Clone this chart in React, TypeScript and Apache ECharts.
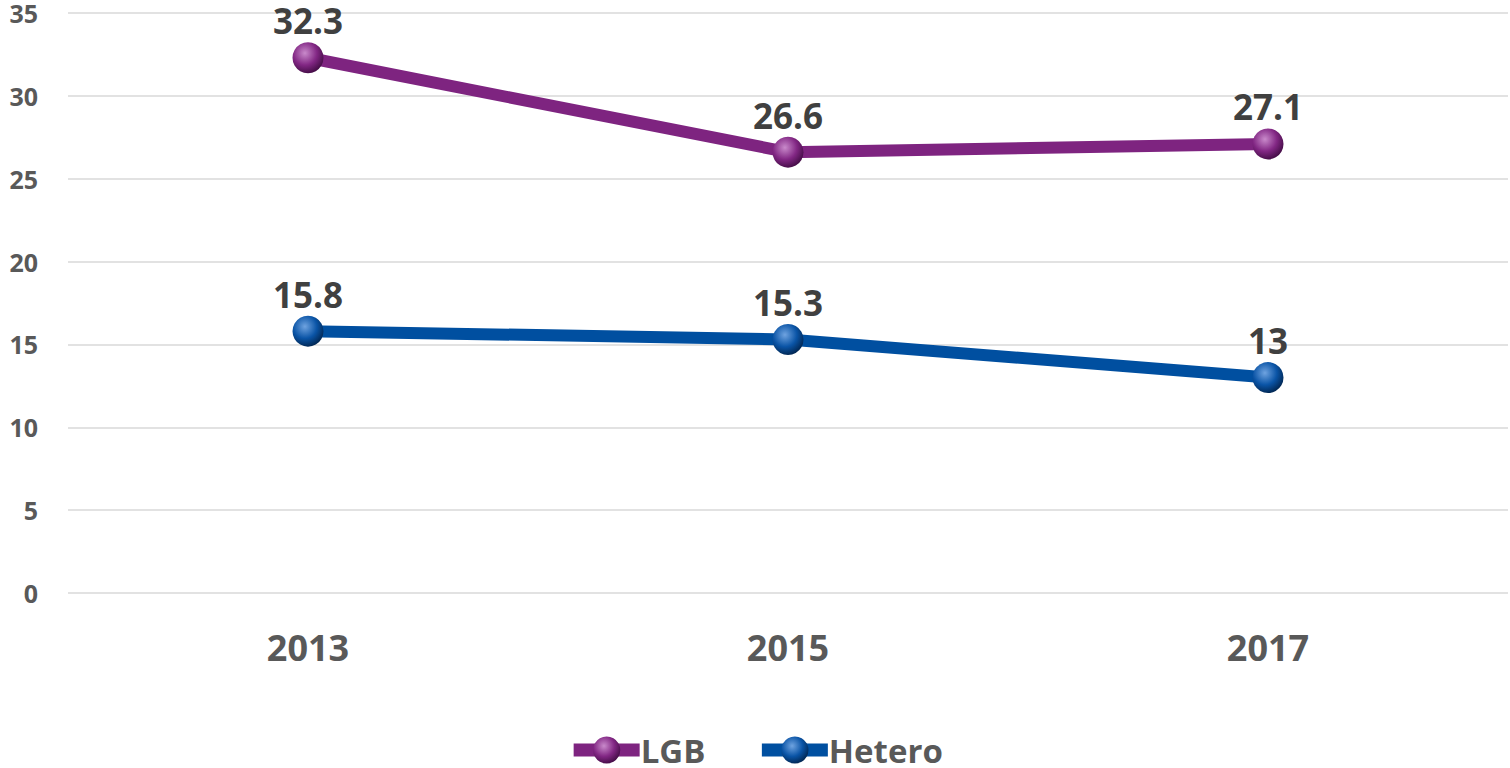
import React, { useEffect, useRef } from "react";
import * as echarts from "echarts";

const categories = ["2013", "2015", "2017"];
const lgbValues = [32.3, 26.6, 27.1];
const heteroValues = [15.8, 15.3, 13];
const yTicks = { min: 0, max: 35, interval: 5 };

const FONT = "'Open Sans', 'Noto Sans', sans-serif";

function sphere(light: string, mid: string, dark: string) {
  return new echarts.graphic.RadialGradient(0.4, 0.35, 0.7, [
    { offset: 0, color: light },
    { offset: 0.55, color: mid },
    { offset: 1, color: dark },
  ]);
}

export default function App() {
  const ref = useRef<HTMLDivElement>(null);
  useEffect(() => {
    if (!ref.current) return;
    const chart = echarts.init(ref.current, undefined, { renderer: "svg" });
    const labelStyle = {
      show: true,
      position: "top" as const,
      distance: 4,
      fontFamily: FONT,
      fontWeight: "bold" as const,
      fontSize: 35,
      color: "#404040",
    };
    chart.setOption({
      animation: false,
      backgroundColor: "#ffffff",
      grid: { left: 68, right: 2, top: 13, bottom: 175, containLabel: false },
      legend: {
        bottom: 1,
        left: "center",
        padding: [0, 5, 0, 5],
        itemWidth: 66,
        itemHeight: 34,
        itemGap: 50,
        lineStyle: { width: 13 },
        textStyle: {
          fontFamily: FONT,
          fontWeight: "bold",
          fontSize: 33,
          lineHeight: 34,
          color: "#595959",
          padding: [0, 0, 0, -4],
        },
        data: ["LGB", "Hetero"],
      },
      xAxis: {
        type: "category",
        data: categories,
        boundaryGap: true,
        axisLine: { show: false },
        axisTick: { show: false },
        axisLabel: {
          margin: 36,
          fontFamily: FONT,
          fontWeight: "bold",
          fontSize: 36,
          color: "#595959",
        },
      },
      yAxis: {
        type: "value",
        min: yTicks.min,
        max: yTicks.max,
        interval: yTicks.interval,
        axisLine: { show: false },
        axisTick: { show: false },
        splitLine: { lineStyle: { color: "#D9D9D9", width: 1.5 } },
        axisLabel: {
          margin: 30,
          fontFamily: FONT,
          fontWeight: "bold",
          fontSize: 25,
          color: "#595959",
        },
      },
      series: [
        {
          name: "LGB",
          type: "line",
          data: lgbValues,
          symbol: "circle",
          symbolSize: 31,
          lineStyle: { color: "#7E2480", width: 12 },
          itemStyle: {
            color: sphere("#C98ACB", "#822784", "#3E0A40"),
            borderWidth: 0,
          },
          label: labelStyle,
        },
        {
          name: "Hetero",
          type: "line",
          data: heteroValues,
          symbol: "circle",
          symbolSize: 31,
          lineStyle: { color: "#004FA0", width: 12 },
          itemStyle: {
            color: sphere("#6FA3E0", "#0A54A6", "#00224A"),
            borderWidth: 0,
          },
          label: labelStyle,
        },
      ],
    });
    return () => chart.dispose();
  }, []);
  return (
    <div
      ref={ref}
      style={{ position: "absolute", left: 0, top: 0, width: 1510, height: 768 }}
    />
  );
}
